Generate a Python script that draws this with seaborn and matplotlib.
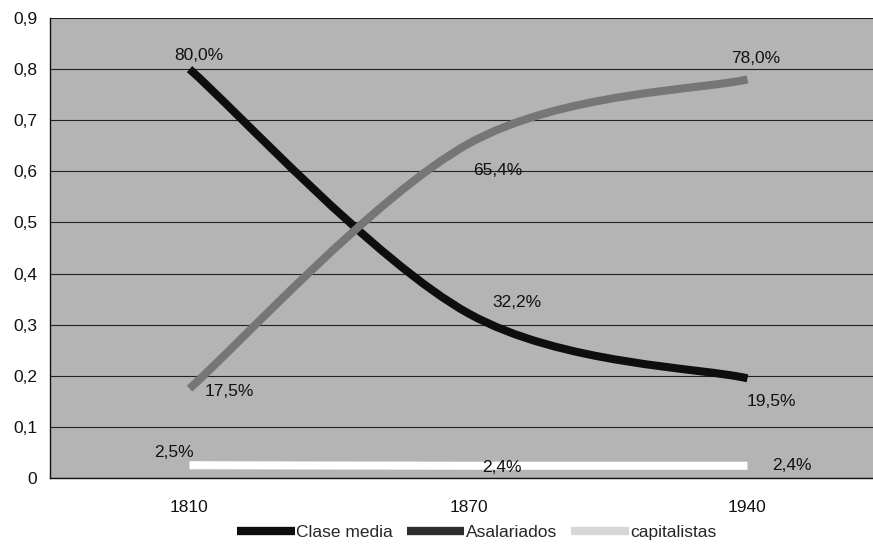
import matplotlib
matplotlib.use('Agg')
import matplotlib.pyplot as plt
import seaborn as sns
from matplotlib.path import Path
from matplotlib.patches import PathPatch
from matplotlib.lines import Line2D
from matplotlib.ticker import FuncFormatter, FixedLocator

years = ['1810', '1870', '1940']
clase_media = [0.800, 0.322, 0.195]
asalariados = [0.175, 0.654, 0.780]
capitalistas = [0.025, 0.024, 0.024]

series_names = ['Clase media', 'Asalariados', 'capitalistas']
series_values = [clase_media, asalariados, capitalistas]
series_colors = ['#0e0e0e', '#767676', '#ffffff']

# label offsets (points) per series / point
label_offsets = [
    [(7, 9.5), (35, 8), (17, -17)],
    [(29, -2), (21, -19), (6, 15)],
    [(-11, 9), (24, -1), (32, 0)],
]

sns.set_theme(style='white')
plt.rcParams['font.family'] = ['Liberation Sans', 'DejaVu Sans']


def smooth_path(ys):
    # Excel-style smoothed line, drawn as cubic Bezier segments
    pts = list(enumerate(ys))
    verts = [pts[0]]
    codes = [Path.MOVETO]
    n = len(pts)
    for i in range(n - 1):
        p0 = pts[max(i - 1, 0)]
        p1 = pts[i]
        p2 = pts[i + 1]
        p3 = pts[min(i + 2, n - 1)]
        c1 = (p1[0] + (p2[0] - p0[0]) / 6, p1[1] + (p2[1] - p0[1]) / 6)
        c2 = (p2[0] - (p3[0] - p1[0]) / 6, p2[1] - (p3[1] - p1[1]) / 6)
        verts += [c1, c2, p2]
        codes += [Path.CURVE4] * 3
    return Path(verts, codes)


fig = plt.figure(figsize=(8.73, 5.44), dpi=100)
ax = fig.add_axes([50 / 873, 66 / 544, 823 / 873, 460 / 544])
ax.set_facecolor('#b4b4b4')

for name, vals, col in zip(series_names, series_values, series_colors):
    ax.add_patch(PathPatch(smooth_path(vals), fill=False, edgecolor=col,
                           lw=5.8, capstyle='butt', zorder=3))

for vals, offs in zip(series_values, label_offsets):
    for i, v in enumerate(vals):
        txt = f'{v * 100:.1f}%'.replace('.', ',')
        ax.annotate(txt, (i, v), xytext=offs[i], textcoords='offset points',
                    ha='center', va='center', fontsize=12.5, color='#111111',
                    zorder=4)

ax.set_xlim(-0.5, -0.5 + 823 / 279)
ax.set_ylim(0, 0.9)
ax.yaxis.set_major_locator(FixedLocator([i / 10 for i in range(10)]))
ax.yaxis.set_major_formatter(FuncFormatter(
    lambda v, p: '0' if abs(v) < 1e-9 else f'{v:.1f}'.replace('.', ',')))
ax.grid(axis='y', color='#222222', lw=0.8)
ax.set_axisbelow(True)

ax.set_xticks(range(len(years)))
ax.set_xticklabels(years)
ax.set_xticks([-0.5, 0.5, 1.5], minor=True)
ax.tick_params(axis='x', which='major', length=0, pad=15.5, labelsize=12.5)
ax.tick_params(axis='x', which='minor', length=4, width=0.8, color='#222222',
               direction='out')
ax.tick_params(axis='y', length=5, width=0.8, color='#222222', direction='out',
               labelsize=12.5, pad=4)
ax.tick_params(colors='#111111', which='both')

for s in ['top', 'right']:
    ax.spines[s].set_visible(False)
for s in ['left', 'bottom']:
    ax.spines[s].set_color('#111111')
    ax.spines[s].set_linewidth(1.0)

handles = [
    Line2D([], [], color='#0e0e0e', lw=6, solid_capstyle='butt'),
    Line2D([], [], color='#2e2e2e', lw=6, solid_capstyle='butt'),
    Line2D([], [], color='#d6d6d6', lw=6, solid_capstyle='butt'),
]
leg = fig.legend(handles, series_names, loc='center', ncol=3,
                 bbox_to_anchor=(477 / 873, 1 - 532 / 544), frameon=False,
                 fontsize=12.5, handlelength=3.3, handletextpad=0.1,
                 columnspacing=0.8)

fig.savefig('out.png', dpi=100)
